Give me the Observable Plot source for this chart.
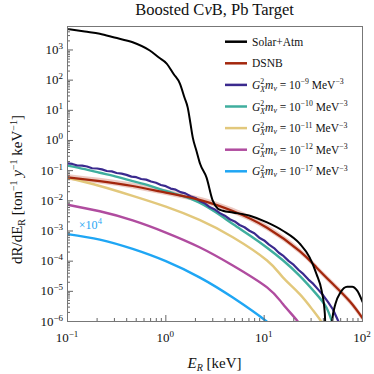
<!DOCTYPE html>
<html><head><meta charset="utf-8">
<script src="https://cdn.jsdelivr.net/npm/d3@7"></script>
<script src="https://cdn.jsdelivr.net/npm/@observablehq/plot@0.6"></script>
<style>body{margin:0;background:#fff} svg{display:block}</style>
</head><body><div id="chart"></div>
<script>
// ---- data ----
const solarX = [0.1, 0.15, 0.213, 0.3, 0.46, 0.687, 0.85, 1.02, 1.2, 1.39, 1.55, 1.67, 1.78, 1.88, 2.05, 2.23, 2.59, 3.0, 3.38, 3.8, 4.8, 7.16, 10.7, 15.5, 23, 29, 34, 38.4, 41.4, 42.5, 47.5, 49, 53, 59.7, 69.8, 78.5, 88.3, 100];
const solarY = [5000, 4080, 3430, 2580, 1800, 960, 560, 355, 160, 77, 26, 12.3, 3.65, 1.24, 0.45, 0.17, 0.060, 0.0101, 0.0055, 0.0047, 0.0041, 0.0032, 0.00193, 0.00102, 3.8e-4, 1.33e-4, 3.8e-5, 1.05e-5, 1.8e-6, 2e-7, 2e-7, 1.0e-6, 3.8e-6, 9.2e-6, 1.42e-5, 1.42e-5, 1.05e-5, 4.5e-6];

const dsnbX  = [0.1, 0.213, 0.46, 1.0, 2.2, 4.8, 10.7, 23, 34, 50, 74.5, 100];
const dsnbY  = [0.060, 0.045, 0.031, 0.0187, 0.0108, 0.0046, 0.00128, 2.15e-4, 6.2e-5, 1.75e-5, 4.6e-6, 1.3e-6];
const dsnbLo = [0.048, 0.036, 0.0248, 0.0150, 0.0086, 0.00368, 0.00102, 1.72e-4, 4.96e-5, 1.4e-5, 3.68e-6, 1.04e-6];
const dsnbHi = [0.075, 0.056, 0.039, 0.0234, 0.0135, 0.00575, 0.0016, 2.69e-4, 7.75e-5, 2.19e-5, 5.75e-6, 1.63e-6];

const g9X = [0.1, 0.112, 0.126, 0.141, 0.158, 0.178, 0.2, 0.224, 0.251, 0.282, 0.316, 0.355, 0.398, 0.447, 0.501, 0.562, 0.631, 0.708, 0.794, 0.891, 1, 1.12, 1.26, 1.41, 1.58, 1.78, 2, 2.24, 2.51, 2.82, 3.16, 3.55, 3.98, 4.47, 5.01, 5.62, 6.31, 7.08, 7.94, 8.91, 10, 11.2, 12.6, 14.1, 15.8, 17.8, 20, 22.4, 25.1, 28.2, 31.6, 35.5, 39.8, 44.7, 50.1, 56.2, 63.1];
const g9Y = [0.174, 0.167, 0.148, 0.146, 0.137, 0.120, 0.118, 0.110, 0.0974, 0.0944, 0.0837, 0.0797, 0.0725, 0.0634, 0.0606, 0.0530, 0.0505, 0.0438, 0.0398, 0.0336, 0.0306, 0.0255, 0.0234, 0.0194, 0.0176, 0.0141, 0.0124, 0.0096, 0.0081, 0.00608, 0.00513, 0.00391, 0.00321, 0.00245, 0.00208, 0.00158, 0.00133, 0.00102, 8.4e-4, 6.0e-4, 4.86e-4, 3.53e-4, 2.72e-4, 1.9e-4, 1.46e-4, 1.0e-4, 7.5e-5, 5.1e-5, 3.7e-5, 2.45e-5, 1.76e-5, 1.14e-5, 7.4e-6, 4.4e-6, 2.5e-6, 1.1e-6, 4.6e-7];

const g10X = [0.1, 0.15, 0.213, 0.32, 0.46, 0.68, 1.0, 1.5, 2.2, 3.28, 4.8, 7.16, 10.7, 15.5, 23, 34, 43, 50];
const g10Y = [0.147, 0.112, 0.085, 0.062, 0.045, 0.032, 0.0212, 0.0143, 0.0087, 0.0040, 0.0017, 7.1e-4, 2.8e-4, 1.07e-4, 3.25e-5, 8.1e-6, 2.9e-6, 8e-7];

const g11X = [0.1, 0.213, 0.46, 1.0, 2.2, 4.8, 10.7, 15.5, 23, 31.5, 38, 42];
const g11Y = [0.058, 0.031, 0.0146, 0.0064, 0.00233, 6.2e-4, 1.05e-4, 2.9e-5, 8.1e-6, 2.3e-6, 1e-6, 5e-7];

const g12X = [0.1, 0.213, 0.46, 1.0, 2.2, 4.8, 10.7, 15.5, 22, 25];
const g12Y = [0.0074, 0.0045, 0.00225, 8.9e-4, 2.9e-4, 7.2e-5, 1.35e-5, 3.8e-6, 1e-6, 5e-7];

const g17X = [0.1, 0.213, 0.46, 1.0, 2.2, 4.8, 10.6, 12];
const g17Y = [7.9e-4, 5.2e-4, 2.55e-4, 1.0e-4, 2.9e-5, 6.2e-6, 1e-6, 6e-7];

const seriesNames = ["Solar+Atm", "DSNB", "-9", "-10", "-11", "-12", "-17"];
const seriesColors = ["#000000", "#a3260c", "#3b2a8e", "#3fae9e", "#e2c87c", "#b04c9f", "#1fa6f4"];

const xMajor = [0.1, 1, 10, 100];
const xExp = ["\u22121", "0", "1", "2"];
const yMajor = [1e-6, 1e-5, 1e-4, 1e-3, 1e-2, 1e-1, 1, 10, 100, 1000];
const yExp = ["\u22126", "\u22125", "\u22124", "\u22123", "\u22122", "\u22121", "0", "1", "2", "3"];
const xMinor = [0.2,0.3,0.4,0.5,0.6,0.7,0.8,0.9,2,3,4,5,6,7,8,9,20,30,40,50,60,70,80,90];
const yMinor = [];
[1e-6,1e-5,1e-4,1e-3,1e-2,1e-1,1,10,100,1000].forEach(d => [2,3,4,5,6,7,8,9].forEach(k => { if (k*d <= 6000) yMinor.push(k*d); }));

const titleText = "Boosted C";
const font = "'Liberation Serif', 'DejaVu Serif', serif";

const rows = (xs, ys) => xs.map((x, i) => ({x, y: ys[i]}));
const band = dsnbX.map((x, i) => ({x, lo: dsnbLo[i], hi: dsnbHi[i]}));

const W = 374, H = 374, mL = 67, mR = 12, mT = 26, mB = 53;
const pw = W - mL - mR, ph = H - mT - mB;

const lineOpts = (c, w) => ({x: "x", y: "y", stroke: c, strokeWidth: w, curve: "natural", clip: true});

const chart = Plot.plot({
  width: W, height: H,
  marginLeft: mL, marginRight: mR, marginTop: mT, marginBottom: mB,
  x: {type: "log", domain: [0.1, 100], axis: null},
  y: {type: "log", domain: [1e-6, 6000], axis: null},
  style: {fontFamily: font, background: "#fff"},
  marks: [
    Plot.areaY(band, {x: "x", y1: "lo", y2: "hi", fill: "#dc9f92", fillOpacity: 0.55, curve: "natural", clip: true}),
    Plot.line(rows(g17X, g17Y), lineOpts(seriesColors[6], 2.4)),
    Plot.line(rows(g12X, g12Y), lineOpts(seriesColors[5], 2.4)),
    Plot.line(rows(g11X, g11Y), lineOpts(seriesColors[4], 2.4)),
    Plot.line(rows(g10X, g10Y), lineOpts(seriesColors[3], 2.4)),
    Plot.line(rows(g9X, g9Y), {x: "x", y: "y", stroke: seriesColors[2], strokeWidth: 2.2, clip: true}),
    Plot.line(rows(dsnbX, dsnbY), lineOpts(seriesColors[1], 2.2)),
    Plot.line(rows(solarX, solarY), {...lineOpts(seriesColors[0], 2), curve: "monotone-x"}),
    Plot.tickX(xMajor, {x: d => d, stroke: "#666", insetTop: ph - 6}),
    Plot.tickX(xMinor, {x: d => d, stroke: "#666", insetTop: ph - 3}),
    Plot.tickY(yMajor, {y: d => d, stroke: "#666", insetRight: pw - 6}),
    Plot.tickY(yMinor, {y: d => d, stroke: "#666", insetRight: pw - 3}),
    Plot.frame({stroke: "#777", strokeWidth: 1})
  ]
});

document.getElementById("chart").appendChild(chart);
const sx = chart.scale("x"), sy = chart.scale("y");
const svg = d3.select(chart);
const g = svg.append("g").attr("font-family", font).attr("fill", "#111").attr("text-anchor", "start");

// title
const t = g.append("text").attr("x", mL + pw / 2).attr("y", 14.5).attr("text-anchor", "middle").attr("font-size", 16.5);
t.append("tspan").text(titleText);
t.append("tspan").attr("font-style", "italic").text("\u03bd");
t.append("tspan").text("B, Pb Target");

// tick labels
xMajor.forEach((v, i) => {
  const tx = g.append("text").attr("x", sx.apply(v)).attr("y", 342).attr("text-anchor", "middle").attr("font-size", 13);
  tx.append("tspan").text("10");
  tx.append("tspan").attr("font-size", 9).attr("dy", -5).text(xExp[i]);
});
yMajor.forEach((v, i) => {
  const ty = g.append("text").attr("x", mL - 4).attr("y", sy.apply(v) + 4.5).attr("text-anchor", "end").attr("font-size", 13);
  ty.append("tspan").text("10");
  ty.append("tspan").attr("font-size", 9).attr("dy", -5).text(yExp[i]);
});

// x label
const xl = g.append("text").attr("x", mL + pw / 2).attr("y", 368).attr("text-anchor", "middle").attr("font-size", 15);
xl.append("tspan").attr("font-style", "italic").text("E");
xl.append("tspan").attr("font-size", 10).attr("dy", 3).attr("font-style", "italic").text("R");
xl.append("tspan").attr("dy", -3).text(" [keV]");

// y label
const yl = g.append("text").attr("transform", `translate(22,${mT + ph / 2 + 16}) rotate(-90)`).attr("text-anchor", "middle").attr("font-size", 15);
yl.append("tspan").text("dR/dE");
yl.append("tspan").attr("font-size", 10).attr("dy", 3).text("R");
yl.append("tspan").attr("dy", -3).text(" [ton");
yl.append("tspan").attr("font-size", 10).attr("dy", -5).text("\u22121");
yl.append("tspan").attr("dy", 5).text(" ");
yl.append("tspan").attr("font-style", "italic").text("y");
yl.append("tspan").attr("font-size", 10).attr("dy", -5).text("\u22121");
yl.append("tspan").attr("dy", 5).text(" keV");
yl.append("tspan").attr("font-size", 10).attr("dy", -5).text("\u22121");
yl.append("tspan").attr("dy", 5).text("]");

// x10^4 annotation
const ann = g.append("text").attr("x", sx.apply(0.132)).attr("y", sy.apply(1.15e-3)).attr("text-anchor", "start").attr("font-size", 12).attr("fill", seriesColors[6]);
ann.append("tspan").text("\u00d710");
ann.append("tspan").attr("font-size", 8.5).attr("dy", -5).text("4");

// legend
const leg = g.append("g").attr("font-size", 11.5).attr("text-anchor", "start");
seriesNames.forEach((name, i) => {
  const y = 41.7 + i * 21.6;
  leg.append("line").attr("x1", 225).attr("x2", 247).attr("y1", y).attr("y2", y).attr("stroke", seriesColors[i]).attr("stroke-width", 2.5);
  const tt = leg.append("text").attr("x", 252).attr("y", y + 4).attr("text-anchor", "start");
  if (i < 2) { tt.text(name); return; }
  tt.append("tspan").attr("font-style", "italic").text("G");
  tt.append("tspan").attr("font-size", 7.8).attr("dy", -4.5).text("2");
  tt.append("tspan").attr("font-size", 7.8).attr("font-style", "italic").attr("dx", -3.9).attr("dy", 7.5).text("X");
  tt.append("tspan").attr("font-style", "italic").attr("dy", -3).text("m");
  tt.append("tspan").attr("font-style", "italic").attr("font-size", 7.8).attr("dy", 2).text("\u03bd");
  tt.append("tspan").attr("dy", -2).text(" = 10");
  tt.append("tspan").attr("font-size", 7.8).attr("dy", -4.5).text("\u2212" + name.slice(1));
  tt.append("tspan").attr("dy", 4.5).text(" MeV");
  tt.append("tspan").attr("font-size", 7.8).attr("dy", -4.5).text("\u22123");
});
</script>
</body></html>
